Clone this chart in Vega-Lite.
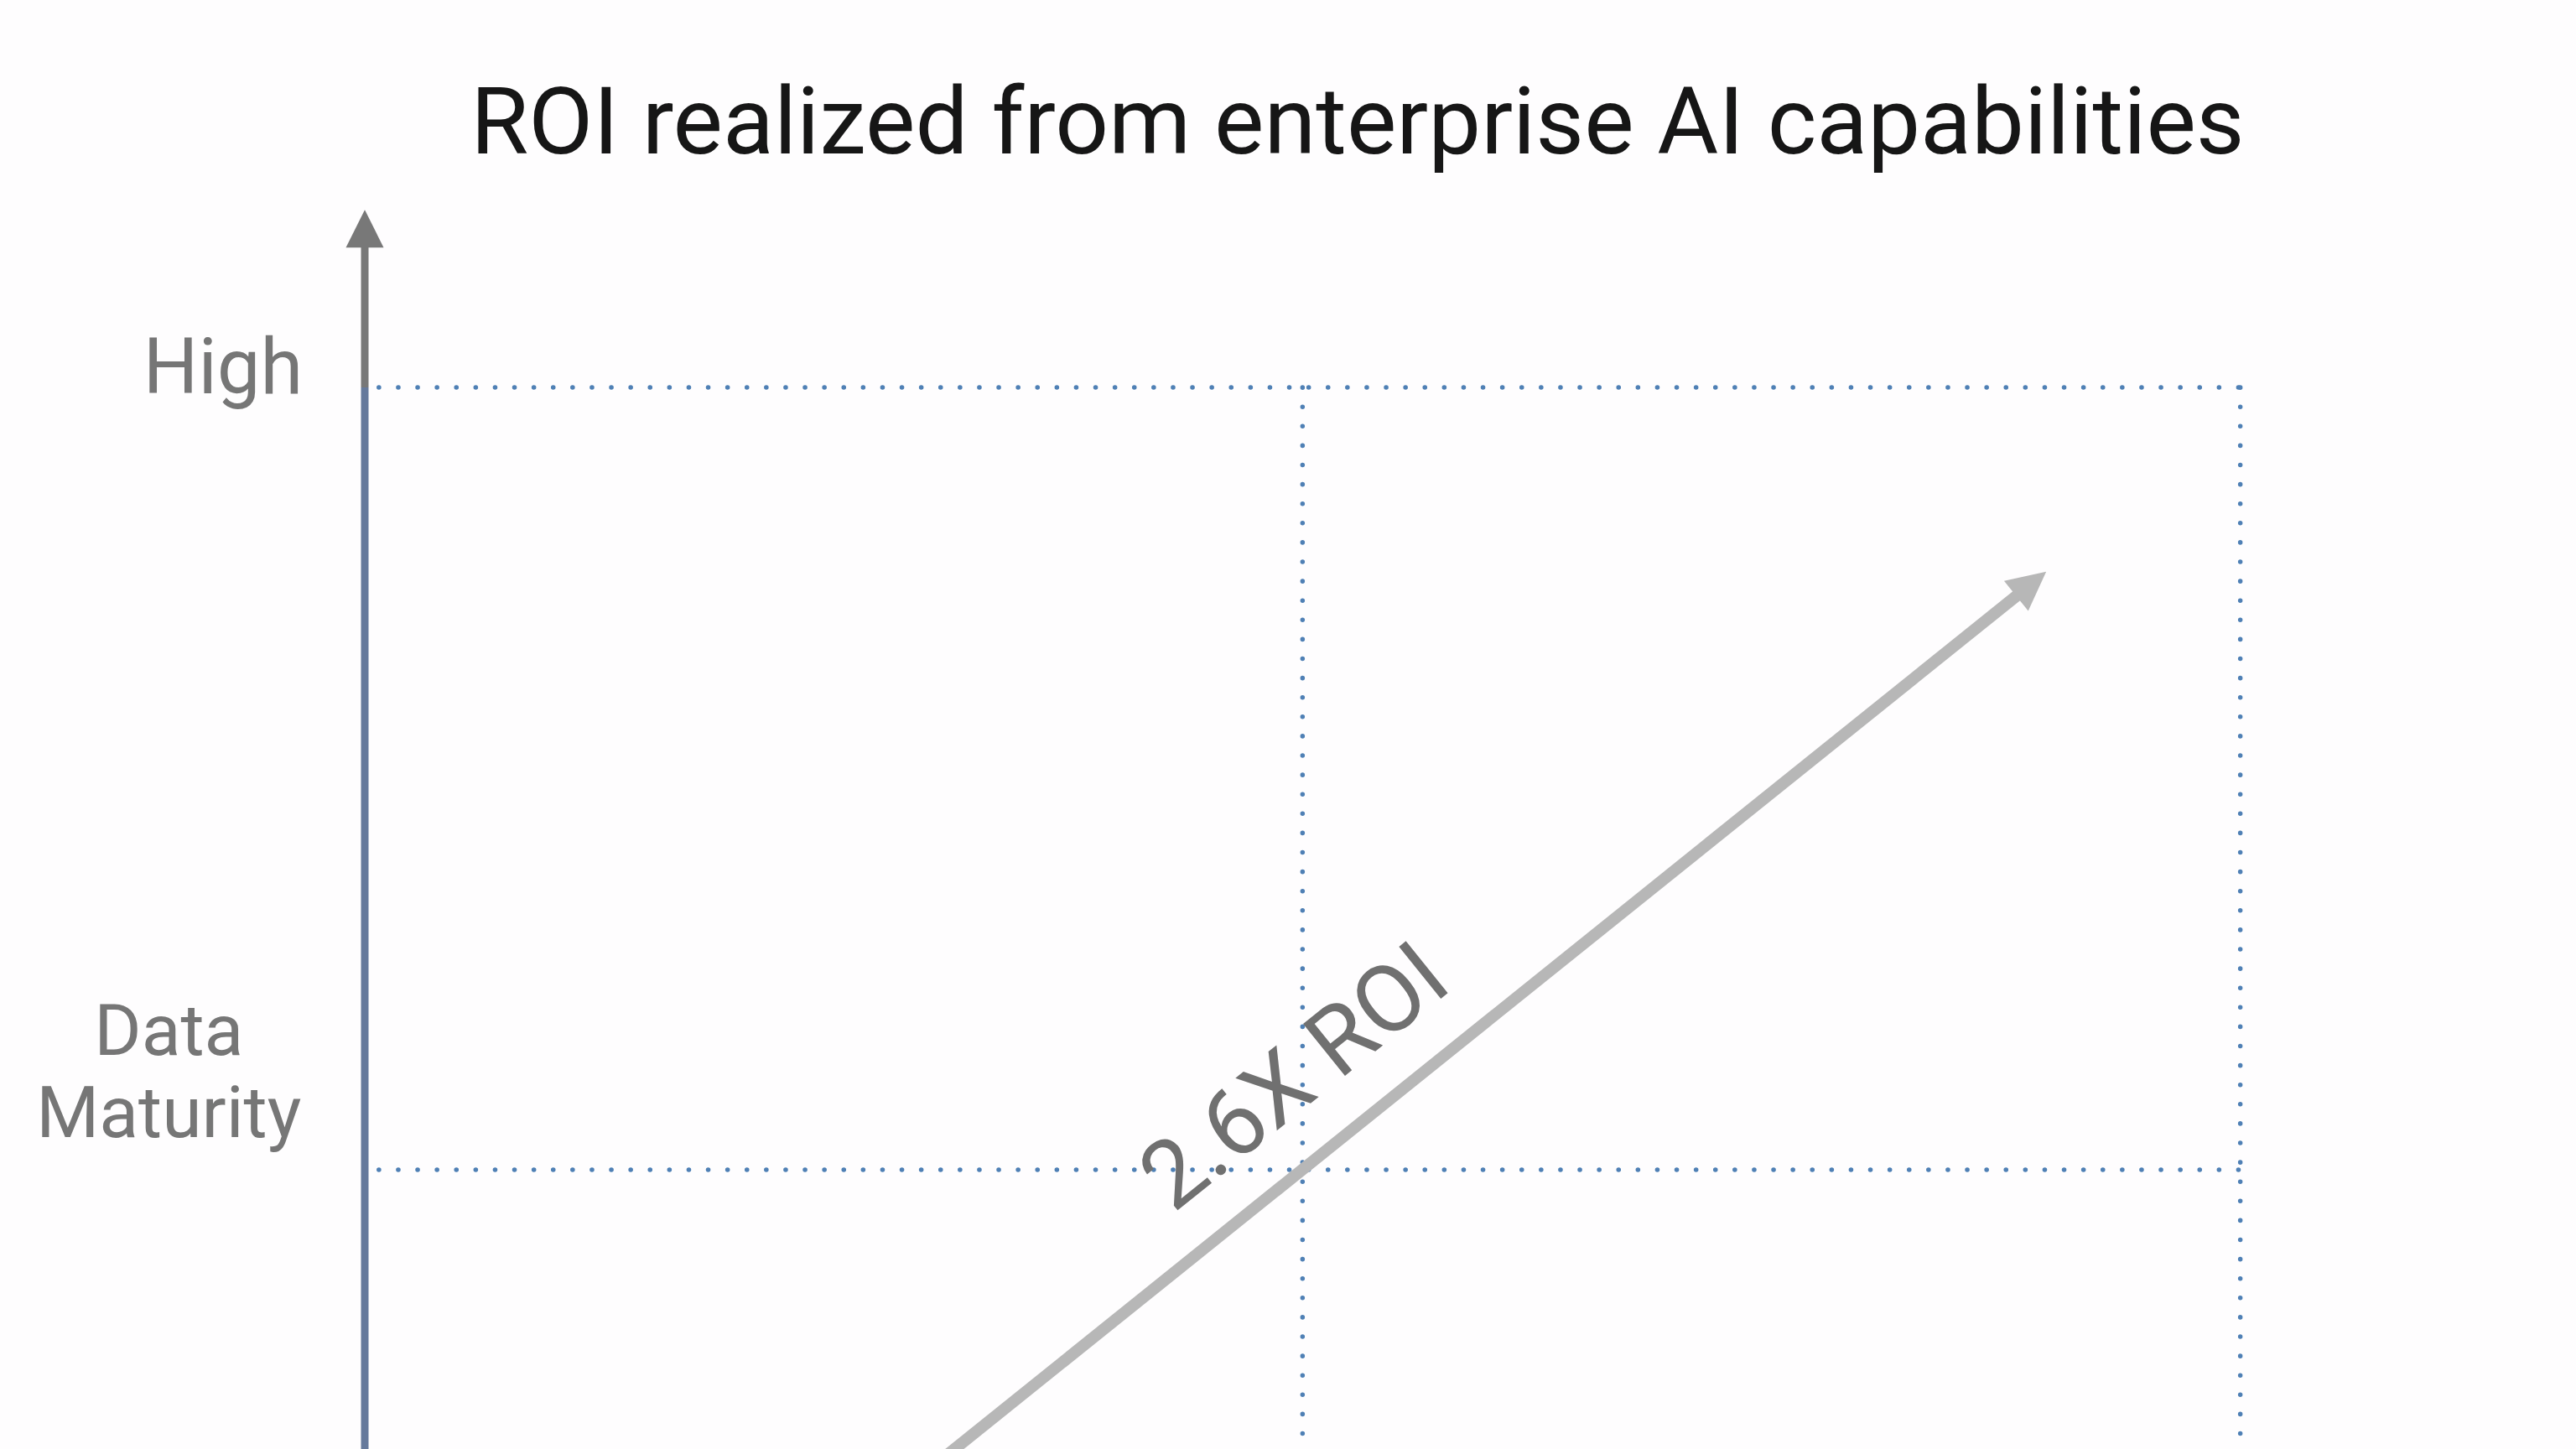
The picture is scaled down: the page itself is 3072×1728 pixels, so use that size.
{
  "$schema": "https://vega.github.io/schema/vega-lite/v6.json",
  "autosize": {"type": "none"},
  "padding": {"top": 240, "left": 0, "right": 0, "bottom": 0},
  "width": 3072,
  "height": 1488,
  "background": "#fefdfe",
  "config": {"view": {"stroke": null}},
  "title": {
    "text": "ROI realized from enterprise AI capabilities",
    "font": "Roboto",
    "fontSize": 112,
    "fontWeight": "normal",
    "color": "#161616",
    "anchor": "middle",
    "frame": "group",
    "baseline": "alphabetic",
    "offset": 36,
    "dx": 83,
    "dy": 91
  },
  "datasets": {
    "grid": [
      {"x": 0.015, "y": 2, "x2": 2, "y2": 2},
      {"x": 0.015, "y": 1, "x2": 2, "y2": 1},
      {"x": 1, "y": 2, "x2": 1, "y2": 0.5},
      {"x": 2, "y": 2, "x2": 2, "y2": 0.5}
    ],
    "axisline": [
      {"part": "lower", "x": 0, "y": 0.5, "y2": 2},
      {"part": "upper", "x": 0, "y": 2, "y2": 2.185}
    ],
    "axishead": [{"x": 0, "y": 2.203}],
    "roi": [{"x": 0.55, "y": 0.567, "x2": 1.766, "y2": 1.738}],
    "roihead": [{"x": 1.777, "y": 1.749}],
    "high": [{"label": "High", "x": -0.066, "y": 1.9925}],
    "maturity": [{"label": "Data Maturity", "x": -0.209, "y": 1.147}],
    "roilabel": [{"label": "2.6X ROI", "x": 1.012, "y": 1.088}]
  },
  "layer": [
    {
      "data": {"name": "grid"},
      "mark": {"type": "rule", "clip": true, "color": "#4f80b5", "strokeWidth": 5.5, "strokeCap": "round", "strokeDash": [0.1, 23]},
      "encoding": {
        "x": {"field": "x", "type": "quantitative", "scale": {"domain": [-0.389, 2.358], "nice": false, "zero": false}, "axis": null},
        "y": {"field": "y", "type": "quantitative", "scale": {"domain": [0.643, 2.238], "nice": false, "zero": false}, "axis": null},
        "x2": {"field": "x2"},
        "y2": {"field": "y2"}
      }
    },
    {
      "data": {"name": "axisline"},
      "mark": {"type": "rule", "clip": true, "strokeWidth": 9},
      "encoding": {
        "x": {"field": "x", "type": "quantitative"},
        "y": {"field": "y", "type": "quantitative"},
        "y2": {"field": "y2"},
        "color": {"field": "part", "type": "nominal", "scale": {"domain": ["lower", "upper"], "range": ["#667a9c", "#787878"]}, "legend": null}
      }
    },
    {
      "data": {"name": "axishead"},
      "mark": {"type": "point", "shape": "M0,-1L1,1L-1,1Z", "size": 2025, "filled": true, "opacity": 1, "color": "#787878"},
      "encoding": {
        "x": {"field": "x", "type": "quantitative"},
        "y": {"field": "y", "type": "quantitative"}
      }
    },
    {
      "data": {"name": "roi"},
      "mark": {"type": "rule", "clip": true, "strokeWidth": 14, "color": "#b7b7b7"},
      "encoding": {
        "x": {"field": "x", "type": "quantitative"},
        "y": {"field": "y", "type": "quantitative"},
        "x2": {"field": "x2"},
        "y2": {"field": "y2"}
      }
    },
    {
      "data": {"name": "roihead"},
      "mark": {"type": "point", "shape": "M0,-1L1,1L-1,1Z", "size": 2116, "angle": 51.2, "filled": true, "opacity": 1, "color": "#b7b7b7"},
      "encoding": {
        "x": {"field": "x", "type": "quantitative"},
        "y": {"field": "y", "type": "quantitative"}
      }
    },
    {
      "data": {"name": "high"},
      "mark": {"type": "text", "font": "Roboto", "fontSize": 92, "align": "right", "baseline": "alphabetic", "color": "#767676"},
      "encoding": {
        "x": {"field": "x", "type": "quantitative"},
        "y": {"field": "y", "type": "quantitative"},
        "text": {"field": "label"}
      }
    },
    {
      "data": {"name": "maturity"},
      "mark": {"type": "text", "font": "Roboto", "fontSize": 86, "align": "center", "baseline": "alphabetic", "lineBreak": " ", "lineHeight": 98, "color": "#767676"},
      "encoding": {
        "x": {"field": "x", "type": "quantitative"},
        "y": {"field": "y", "type": "quantitative"},
        "text": {"field": "label"}
      }
    },
    {
      "data": {"name": "roilabel"},
      "mark": {"type": "text", "font": "Roboto", "fontSize": 112, "align": "center", "baseline": "alphabetic", "angle": -38.8, "color": "#707070"},
      "encoding": {
        "x": {"field": "x", "type": "quantitative"},
        "y": {"field": "y", "type": "quantitative"},
        "text": {"field": "label"}
      }
    }
  ]
}
